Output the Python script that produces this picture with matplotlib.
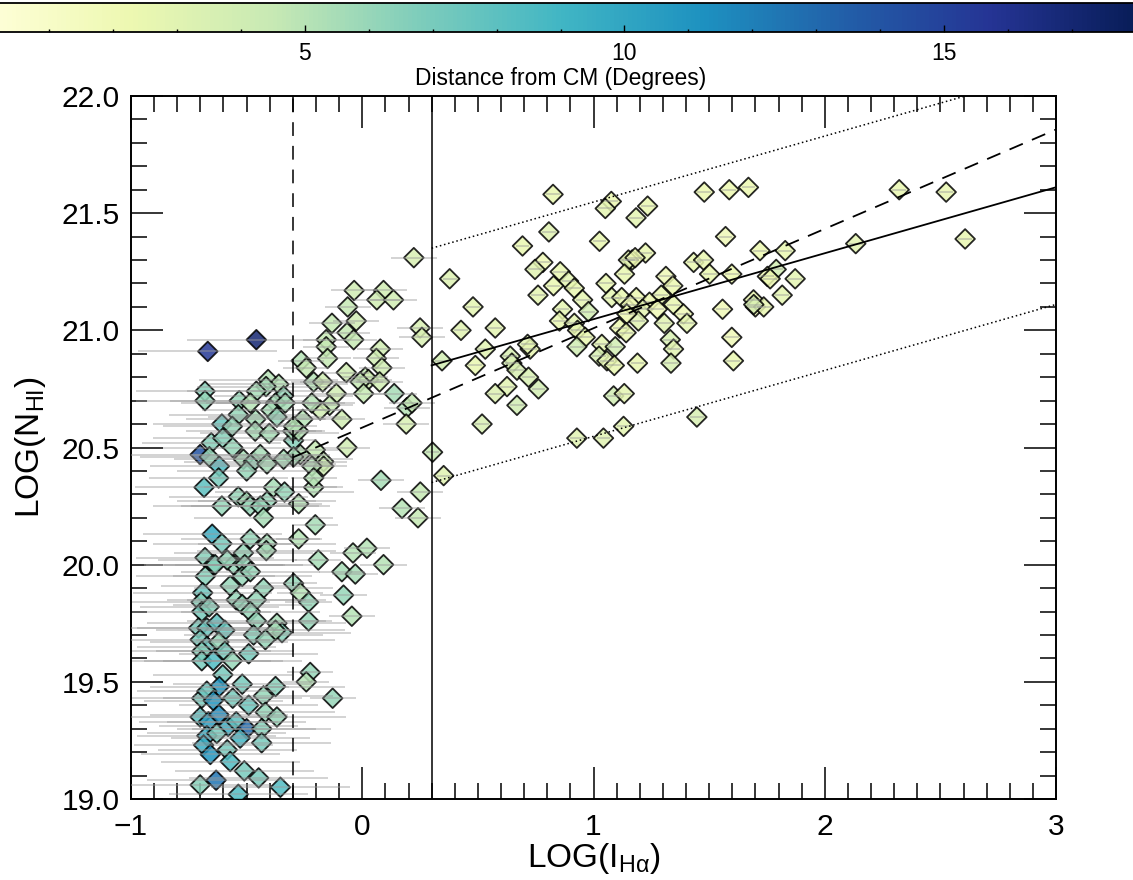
import numpy as np
import matplotlib
matplotlib.use("Agg")
import matplotlib.pyplot as plt
from matplotlib.ticker import MultipleLocator, FormatStrFormatter
from matplotlib.cm import ScalarMappable
from matplotlib.colors import Normalize

plt.rcParams['font.family'] = ['Liberation Sans', 'DejaVu Sans']
plt.rcParams['mathtext.fontset'] = 'custom'
plt.rcParams['mathtext.rm'] = 'Liberation Sans'
plt.rcParams['mathtext.it'] = 'Liberation Sans:italic'

# ---------------- data ----------------
# far group (LOG(I_Ha) > 0.3)
far_x = [0.825, 1.077, 1.051, 1.234, 1.184, 1.479, 1.587, 1.670, 0.807, 1.026,
         0.693, 1.571, 1.720, 0.378, 0.781, 0.747, 0.856, 0.892, 0.827, 0.917,
         0.760, 0.479, 1.225, 1.167, 1.151, 1.180, 1.134, 1.433, 1.476, 1.502,
         1.598, 1.054, 1.079, 1.122, 1.185, 1.159, 1.313, 1.343, 1.293, 1.242,
         1.213, 1.276, 1.346, 1.389, 1.404, 1.306, 1.194, 1.144, 1.558, 1.692,
         1.700, 1.736, 0.953, 0.978, 0.866, 0.853, 0.917, 0.931, 0.964, 0.928,
         0.575, 0.427, 1.113, 1.141, 1.036, 1.094, 1.024, 1.058, 1.090, 1.190,
         1.332, 1.346, 1.335, 1.598, 1.605, 0.726, 0.715, 0.532, 0.489, 0.345,
         0.640, 0.647, 0.669, 0.719, 0.762, 0.626, 0.575, 0.669, 0.518, 1.087,
         1.133, 1.447, 0.928, 1.043, 1.130, 2.322, 2.525, 2.607, 2.134, 1.829,
         1.790, 1.752, 1.764, 1.872, 1.816, 1.693, 0.352, 0.304]
far_y = [21.58, 21.55, 21.52, 21.53, 21.48, 21.59, 21.60, 21.61, 21.42, 21.38,
         21.36, 21.40, 21.34, 21.22, 21.29, 21.26, 21.25, 21.21, 21.19, 21.18,
         21.15, 21.10, 21.33, 21.30, 21.30, 21.31, 21.24, 21.29, 21.30, 21.24,
         21.24, 21.20, 21.14, 21.14, 21.14, 21.11, 21.23, 21.19, 21.15, 21.12,
         21.09, 21.09, 21.11, 21.07, 21.03, 21.03, 21.04, 21.07, 21.09, 21.13,
         21.10, 21.10, 21.13, 21.08, 21.09, 21.04, 21.03, 21.00, 20.97, 20.93,
         21.01, 21.00, 21.01, 20.99, 20.94, 20.93, 20.89, 20.87, 20.85, 20.86,
         20.96, 20.92, 20.86, 20.97, 20.87, 20.92, 20.94, 20.92, 20.85, 20.87,
         20.89, 20.86, 20.83, 20.80, 20.75, 20.76, 20.73, 20.68, 20.60, 20.72,
         20.73, 20.63, 20.54, 20.54, 20.59, 21.60, 21.59, 21.39, 21.37, 21.34,
         21.26, 21.23, 21.22, 21.22, 21.15, 21.11, 20.38, 20.48]
far_d = [2.5, 2.3, 2.8, 2.5, 2.8, 2.3, 2.3, 2.3, 3.0, 2.5,
         2.5, 2.0, 2.3, 3.2, 2.0, 3.0, 2.5, 2.8, 2.5, 2.5,
         2.8, 2.8, 2.5, 2.5, 2.8, 2.3, 2.5, 2.5, 2.5, 2.5,
         2.3, 2.5, 2.8, 2.5, 2.3, 2.0, 2.0, 2.3, 2.5, 2.3,
         2.8, 2.0, 2.5, 2.0, 2.8, 3.0, 3.0, 2.3, 2.0, 2.3,
         2.0, 2.5, 2.8, 3.8, 2.8, 2.5, 2.8, 2.5, 2.5, 4.0,
         2.8, 3.0, 2.3, 2.5, 2.8, 3.8, 3.5, 2.8, 2.5, 2.5,
         3.5, 3.0, 3.5, 2.0, 2.5, 2.5, 2.8, 3.0, 2.5, 3.8,
         3.5, 3.5, 3.5, 3.5, 3.8, 3.0, 3.2, 4.0, 3.5, 4.0,
         2.8, 3.5, 3.0, 3.0, 2.8, 2.5, 2.5, 2.5, 2.8, 2.5,
         3.8, 2.0, 2.3, 2.8, 2.8, 3.5, 3.0, 4.5]

# middle group (-0.3 <= LOG(I_Ha) <= 0.3)
mid_x = [0.223, -0.035, 0.092, 0.063, 0.135, -0.063, -0.131, -0.026, -0.066, -0.037,
         -0.156, -0.156, -0.150, 0.078, 0.061, 0.085, 0.250, 0.258, -0.264, -0.242,
         -0.069, -0.210, -0.171, 0.013, 0.027, -0.009, 0.075, 0.006, -0.112, 0.138,
         -0.141, -0.182, -0.218, -0.088, 0.193, 0.215, 0.190, -0.066, -0.203, -0.167,
         -0.167, -0.268, 0.081, 0.251, 0.172, 0.241, -0.210, -0.203, -0.297, -0.300,
         -0.257, -0.275, -0.218, -0.210, -0.275, -0.275, -0.297, -0.268, -0.232, -0.232,
         -0.088, -0.030, 0.092, -0.081, -0.045, -0.225, -0.242, -0.128, -0.190, -0.040,
         0.020, -0.297, -0.297]
mid_y = [21.31, 21.17, 21.17, 21.13, 21.13, 21.10, 21.03, 21.04, 20.99, 20.96,
         20.96, 20.93, 20.88, 20.92, 20.88, 20.84, 21.01, 20.97, 20.87, 20.84,
         20.82, 20.78, 20.78, 20.80, 20.79, 20.78, 20.78, 20.73, 20.73, 20.73,
         20.68, 20.66, 20.69, 20.62, 20.67, 20.69, 20.60, 20.50, 20.49, 20.44,
         20.42, 20.47, 20.36, 20.31, 20.24, 20.20, 20.33, 20.17, 20.53, 20.57,
         20.62, 20.57, 20.42, 20.37, 20.26, 20.11, 19.92, 19.88, 19.84, 19.76,
         19.97, 19.96, 20.00, 19.87, 19.78, 19.54, 19.50, 19.43, 20.02, 20.05,
         20.07, 20.46, 20.59]
mid_d = [3.5, 4.0, 4.0, 4.0, 4.0, 4.5, 4.5, 4.0, 4.5, 4.5,
         4.5, 4.5, 4.5, 4.0, 4.0, 4.0, 3.5, 3.5, 5.0, 4.5,
         4.0, 5.0, 4.0, 4.5, 4.0, 4.5, 4.0, 4.5, 4.0, 5.5,
         4.5, 4.0, 5.0, 4.0, 5.0, 4.5, 3.5, 4.0, 4.5, 4.5,
         4.0, 5.0, 5.5, 4.5, 5.0, 4.5, 5.0, 5.5, 6.5, 5.5,
         5.0, 5.0, 5.0, 5.0, 5.0, 5.0, 6.0, 5.0, 6.0, 6.0,
         5.5, 5.5, 5.0, 6.0, 5.0, 6.0, 5.0, 6.0, 5.5, 5.0,
         5.0, 5.5, 5.0]

# near group (LOG(I_Ha) < -0.3)
near_x = [-0.458, -0.668, -0.680, -0.680, -0.407, -0.361, -0.416, -0.458, -0.340, -0.532,
          -0.484, -0.375, -0.333, -0.536, -0.395, -0.369, -0.607, -0.461, -0.562, -0.463,
          -0.402, -0.653, -0.603, -0.560, -0.701, -0.661, -0.618, -0.621, -0.514, -0.471,
          -0.441, -0.412, -0.500, -0.340, -0.684, -0.536, -0.500, -0.485, -0.384, -0.412,
          -0.336, -0.607, -0.441, -0.427, -0.649, -0.607, -0.484, -0.412, -0.680, -0.644,
          -0.514, -0.557, -0.508, -0.415, -0.679, -0.636, -0.584, -0.519, -0.484, -0.571,
          -0.427, -0.690, -0.697, -0.694, -0.662, -0.545, -0.519, -0.458, -0.484, -0.458,
          -0.369, -0.347, -0.375, -0.708, -0.672, -0.629, -0.594, -0.470, -0.419, -0.701,
          -0.672, -0.694, -0.620, -0.594, -0.562, -0.491, -0.694, -0.644, -0.603, -0.618,
          -0.519, -0.375, -0.694, -0.672, -0.644, -0.560, -0.491, -0.427, -0.419, -0.369,
          -0.701, -0.665, -0.620, -0.580, -0.545, -0.500, -0.435, -0.672, -0.629, -0.528,
          -0.435, -0.686, -0.657, -0.584, -0.571, -0.510, -0.448, -0.701, -0.632, -0.536,
          -0.354]
near_y = [20.96, 20.91, 20.74, 20.70, 20.79, 20.77, 20.76, 20.74, 20.72, 20.70,
          20.69, 20.69, 20.69, 20.64, 20.66, 20.63, 20.60, 20.62, 20.59, 20.57,
          20.56, 20.52, 20.54, 20.50, 20.47, 20.46, 20.42, 20.37, 20.45, 20.44,
          20.47, 20.43, 20.40, 20.45, 20.33, 20.29, 20.27, 20.25, 20.33, 20.27,
          20.31, 20.25, 20.25, 20.20, 20.13, 20.09, 20.11, 20.09, 20.03, 20.00,
          20.05, 20.00, 20.00, 20.06, 19.95, 20.00, 20.02, 19.95, 19.97, 19.91,
          19.90, 19.88, 19.84, 19.80, 19.82, 19.85, 19.83, 19.85, 19.80, 19.76,
          19.75, 19.71, 19.72, 19.73, 19.73, 19.75, 19.72, 19.70, 19.68, 19.68,
          19.65, 19.63, 19.67, 19.63, 19.59, 19.62, 19.59, 19.59, 19.53, 19.48,
          19.49, 19.48, 19.43, 19.46, 19.42, 19.43, 19.40, 19.44, 19.37, 19.35,
          19.35, 19.33, 19.36, 19.31, 19.33, 19.30, 19.30, 19.27, 19.28, 19.26,
          19.24, 19.23, 19.19, 19.21, 19.16, 19.12, 19.09, 19.06, 19.08, 19.02,
          19.05]
near_d = [17.0, 15.5, 6.5, 6.0, 5.0, 5.0, 5.5, 5.5, 6.0, 6.0,
          5.0, 5.5, 5.5, 6.0, 5.5, 6.0, 7.5, 5.5, 6.0, 5.5,
          5.5, 6.5, 6.5, 6.0, 14.0, 6.0, 8.5, 7.0, 5.5, 6.0,
          5.5, 5.5, 6.0, 5.5, 8.0, 6.0, 5.5, 6.0, 5.5, 6.0,
          6.0, 6.0, 6.0, 5.5, 9.5, 7.0, 6.0, 5.5, 6.5, 6.5,
          6.0, 6.0, 6.0, 5.5, 6.5, 6.5, 6.0, 6.0, 6.0, 6.0,
          6.0, 7.5, 6.5, 7.0, 6.5, 6.0, 6.0, 6.0, 6.0, 6.0,
          5.5, 6.5, 5.5, 7.0, 7.5, 8.0, 7.5, 6.5, 6.0, 7.0,
          7.5, 6.5, 6.0, 7.0, 6.0, 7.0, 7.0, 8.5, 7.0, 11.0,
          7.0, 6.5, 7.0, 7.5, 11.0, 7.0, 7.5, 6.0, 6.0, 6.0,
          8.0, 10.5, 11.5, 9.5, 8.0, 13.0, 6.5, 9.5, 7.0, 9.0,
          7.0, 9.5, 11.0, 7.0, 8.5, 7.0, 7.0, 6.5, 12.5, 8.5,
          8.5]

# typical uncertainties in LOG(I_Ha) for each group
far_err, mid_err, near_err = 0.03, 0.10, 0.30

# fits: (slope, intercept, x start)
fit_solid = (0.2815, 20.766, 0.3)
fit_dashed = (0.424, 20.585, -0.3)
band = 0.5
cut_lo, cut_hi = -0.3, 0.3

# ---------------- figure ----------------
W, H = 1133, 880
fig = plt.figure(figsize=(W / 100, H / 100), dpi=100)
ax = fig.add_axes([131 / W, 1 - 799 / H, (1056 - 131) / W, (799 - 96) / H])

cmap = plt.get_cmap('YlGnBu')
norm = Normalize(vmin=0, vmax=18)

xs = np.array(far_x + mid_x + near_x)
ys = np.array(far_y + mid_y + near_y)
ds = np.array(far_d + mid_d + near_d)
errs = np.array([far_err] * len(far_x) + [mid_err] * len(mid_x) + [near_err] * len(near_x))

ax.scatter(xs, ys, c=ds, cmap=cmap, norm=norm, marker='D', s=100,
           edgecolors='black', linewidths=1.3, alpha=0.85, zorder=3)
ax.errorbar(xs, ys, xerr=errs, fmt='none', ecolor='#9a9a9a', elinewidth=1.2,
            alpha=0.5, capsize=0, zorder=4)

# reference lines
ax.axvline(cut_lo, color='black', lw=1.1, ls=(0, (9, 6.5)), zorder=5)
ax.axvline(cut_hi, color='black', lw=1.1, zorder=5)

xf = np.array([fit_solid[2], 3.0])
ax.plot(xf, fit_solid[0] * xf + fit_solid[1], color='black', lw=1.3, zorder=5)
ax.plot(xf, fit_solid[0] * xf + fit_solid[1] + band, color='black', lw=1.1,
        ls=(0, (1, 1.8)), zorder=5)
ax.plot(xf, fit_solid[0] * xf + fit_solid[1] - band, color='black', lw=1.1,
        ls=(0, (1, 1.8)), zorder=5)
xd = np.array([fit_dashed[2], 3.0])
ax.plot(xd, fit_dashed[0] * xd + fit_dashed[1], color='black', lw=1.3,
        ls=(0, (8, 5.5)), zorder=5)

ax.set_xlim(-1, 3)
ax.set_ylim(19, 22)
ax.xaxis.set_major_locator(MultipleLocator(1))
ax.xaxis.set_minor_locator(MultipleLocator(0.1))
ax.yaxis.set_major_locator(MultipleLocator(0.5))
ax.yaxis.set_minor_locator(MultipleLocator(0.1))
ax.yaxis.set_major_formatter(FormatStrFormatter('%.1f'))
ax.tick_params(which='both', direction='in', top=True, right=True, width=1.1,
               labelsize=21.5)
ax.tick_params(which='major', length=23)
ax.tick_params(which='minor', length=11.5)
ax.tick_params(axis='x', which='major', pad=10)
ax.tick_params(axis='y', which='major', pad=8)
for s in ax.spines.values():
    s.set_linewidth(1.4)

ax.set_xlabel(r'LOG(I$_{\mathrm{H\alpha}}$)', fontsize=24, labelpad=0)
ax.set_ylabel(r'LOG(N$_{\mathrm{HI}}$)', fontsize=24, labelpad=10)

# colorbar
cax = fig.add_axes([-15 / W, 1 - 32 / H, 1151 / W, 29 / H])
cb = fig.colorbar(ScalarMappable(norm=norm, cmap=cmap), cax=cax, orientation='horizontal')
cb.set_ticks([5, 10, 15])
cax.xaxis.set_minor_locator(MultipleLocator(1))
cax.tick_params(which='both', direction='in', width=1.0, labelsize=16.5, pad=7)
cax.tick_params(which='major', length=5)
cax.tick_params(which='minor', length=2.5)
cb.outline.set_linewidth(1.3)
cb.set_label('Distance from CM (Degrees)', fontsize=16.5, labelpad=2)

fig.savefig('out.png', dpi=100)
